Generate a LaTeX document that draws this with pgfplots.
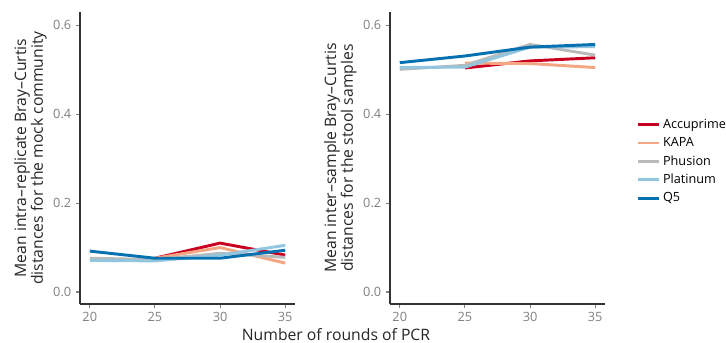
\documentclass[border=0pt]{standalone}
\usepackage{pgfplots}
\pgfplotsset{compat=1.18}
\usepackage{fontspec}
\setmainfont{Open Sans}
\definecolor{cAcc}{HTML}{CA0020}
\definecolor{cKapa}{HTML}{F4A582}
\definecolor{cPhu}{HTML}{BABABA}
\definecolor{cPla}{HTML}{92C5DE}
\definecolor{cQ5}{HTML}{0571B0}
\definecolor{tickgray}{HTML}{808080}
\definecolor{axgray}{HTML}{333333}
\pgfplotsset{
  panel/.style={
    scale only axis, width=161.25pt, height=219pt,
    xmin=19.25, xmax=35.75, ymin=-0.027, ymax=0.63,
    axis lines*=left, axis line style={axgray, line width=1.1pt},
    xtick={20,25,30,35}, ytick={0,0.2,0.4,0.6},
    yticklabel style={/pgf/number format/.cd, fixed, fixed zerofill, precision=1},
    /pgf/number format/assume math mode=true,
    tick align=outside, major tick length=3pt,
    tick style={tickgray, line width=0.8pt},
    ticklabel style={font=\fontsize{9.6}{11}\selectfont, text=tickgray},
    y label style={font=\fontsize{11.8}{12.6}\selectfont, align=center, text=black!85, yshift=-2pt},
    every axis plot/.append style={line width=2.2pt, no marks},
  }
}
\begin{document}
\begin{tikzpicture}
\path[use as bounding box, clip] (0,0) rectangle (544.5pt,-257.25pt);
\begin{axis}[panel, at={(60pt,-9pt)}, anchor=north west,
  ylabel={Mean intra--replicate Bray--Curtis\\distances for the mock community}]
\addplot[cAcc] coordinates {(25,0.076) (30,0.110) (35,0.083)};
\addplot[cKapa] coordinates {(25,0.076) (30,0.100) (35,0.065)};
\addplot[cPhu] coordinates {(20,0.076) (25,0.073) (30,0.087) (35,0.078)};
\addplot[cPla] coordinates {(20,0.071) (25,0.070) (30,0.083) (35,0.105)};
\addplot[cQ5] coordinates {(20,0.092) (25,0.076) (30,0.076) (35,0.094)};
\end{axis}
\begin{axis}[panel, at={(292.5pt,-9pt)}, anchor=north west,
  ylabel={Mean inter--sample Bray--Curtis\\distances for the stool samples},
  legend style={at={(1.125,0.652)}, anchor=north west, draw=none, fill=none,
    font=\fontsize{9.5}{11}\selectfont, row sep=1.2pt},
  legend cell align=left,
  legend image code/.code={\draw[#1, line width=2.2pt] (0pt,0pt) -- (16pt,0pt);}]
\addplot[cAcc] coordinates {(25,0.504) (30,0.520) (35,0.527)};
\addplot[cKapa] coordinates {(25,0.515) (30,0.514) (35,0.505)};
\addplot[cPhu] coordinates {(20,0.501) (25,0.510) (30,0.557) (35,0.533)};
\addplot[cPla] coordinates {(20,0.505) (25,0.506) (30,0.551) (35,0.552)};
\addplot[cQ5] coordinates {(20,0.516) (25,0.531) (30,0.551) (35,0.557)};
\legend{Accuprime, KAPA, Phusion, Platinum, Q5}
\end{axis}
\node[font=\fontsize{11.8}{13}\selectfont, text=black!85, anchor=base, inner sep=0pt] at (252pt,-255.5pt) {Number of rounds of PCR};
\end{tikzpicture}
\end{document}
